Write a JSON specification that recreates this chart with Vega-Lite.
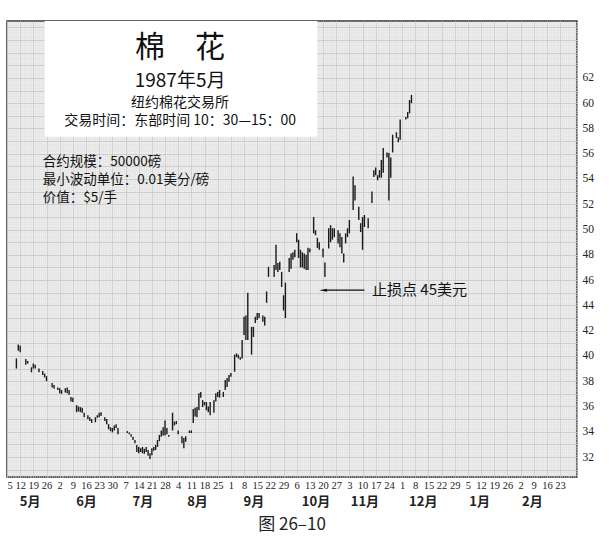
{
  "$schema": "https://vega.github.io/schema/vega-lite/v6.json",
  "description": "棉花 1987年5月 日线图",
  "width": 570,
  "height": 456,
  "autosize": {"type": "none"},
  "padding": {"left": 7, "top": 21, "right": 32, "bottom": 63},
  "background": "white",
  "title": {
    "text": "图 26–10",
    "orient": "bottom",
    "anchor": "middle",
    "offset": 9,
    "font": "Noto Sans CJK SC",
    "fontSize": 17,
    "fontWeight": "normal",
    "color": "#222"
  },
  "config": {
    "view": {"fill": "#eeeeee", "stroke": "#333", "strokeWidth": 1.5},
    "axis": {"title": null, "ticks": false, "domain": false}
  },
  "datasets": {
    "bars": [
      {"d": "1987-05-10", "hi": 39.8, "lo": 39.0},
      {"d": "1987-05-11", "hi": 40.9, "lo": 40.4},
      {"d": "1987-05-12", "hi": 40.8, "lo": 40.3},
      {"d": "1987-05-15", "hi": 39.75, "lo": 39.3},
      {"d": "1987-05-16", "hi": 39.6, "lo": 39.4},
      {"d": "1987-05-18", "hi": 39.1, "lo": 38.7},
      {"d": "1987-05-19", "hi": 39.4, "lo": 39.0},
      {"d": "1987-05-20", "hi": 39.3, "lo": 39.0},
      {"d": "1987-05-22", "hi": 39.0, "lo": 38.7},
      {"d": "1987-05-24", "hi": 38.8, "lo": 38.5},
      {"d": "1987-05-25", "hi": 38.6, "lo": 38.3},
      {"d": "1987-05-26", "hi": 38.4, "lo": 38.0},
      {"d": "1987-05-29", "hi": 37.85, "lo": 37.5},
      {"d": "1987-05-30", "hi": 37.7, "lo": 37.4},
      {"d": "1987-06-01", "hi": 37.5, "lo": 37.3},
      {"d": "1987-06-02", "hi": 37.45, "lo": 37.05},
      {"d": "1987-06-03", "hi": 37.3, "lo": 37.0},
      {"d": "1987-06-05", "hi": 37.45, "lo": 37.1},
      {"d": "1987-06-06", "hi": 37.5, "lo": 37.05},
      {"d": "1987-06-07", "hi": 37.3, "lo": 36.9},
      {"d": "1987-06-08", "hi": 36.75, "lo": 36.4},
      {"d": "1987-06-09", "hi": 36.7, "lo": 36.35},
      {"d": "1987-06-11", "hi": 36.1, "lo": 35.55},
      {"d": "1987-06-12", "hi": 36.0, "lo": 35.6},
      {"d": "1987-06-13", "hi": 35.95, "lo": 35.55},
      {"d": "1987-06-14", "hi": 35.9, "lo": 35.5},
      {"d": "1987-06-15", "hi": 35.5, "lo": 35.15},
      {"d": "1987-06-17", "hi": 35.3, "lo": 35.0},
      {"d": "1987-06-18", "hi": 35.15, "lo": 34.85},
      {"d": "1987-06-19", "hi": 35.0, "lo": 34.7},
      {"d": "1987-06-21", "hi": 35.15, "lo": 34.75},
      {"d": "1987-06-22", "hi": 35.3, "lo": 35.1},
      {"d": "1987-06-23", "hi": 35.5, "lo": 35.15},
      {"d": "1987-06-24", "hi": 35.55, "lo": 35.25},
      {"d": "1987-06-26", "hi": 35.15, "lo": 34.85},
      {"d": "1987-06-27", "hi": 35.0, "lo": 34.6},
      {"d": "1987-06-28", "hi": 34.6, "lo": 34.2},
      {"d": "1987-06-29", "hi": 34.35, "lo": 34.05},
      {"d": "1987-06-30", "hi": 34.3, "lo": 33.95},
      {"d": "1987-07-01", "hi": 34.5, "lo": 34.1},
      {"d": "1987-07-02", "hi": 34.6, "lo": 34.3},
      {"d": "1987-07-03", "hi": 34.3, "lo": 33.8},
      {"d": "1987-07-08", "hi": 34.05, "lo": 33.9},
      {"d": "1987-07-09", "hi": 33.95, "lo": 33.8},
      {"d": "1987-07-10", "hi": 33.8, "lo": 33.6},
      {"d": "1987-07-11", "hi": 33.6, "lo": 33.35},
      {"d": "1987-07-12", "hi": 33.35, "lo": 33.1},
      {"d": "1987-07-13", "hi": 32.95, "lo": 32.4},
      {"d": "1987-07-14", "hi": 32.8, "lo": 32.3},
      {"d": "1987-07-15", "hi": 32.7, "lo": 32.4},
      {"d": "1987-07-16", "hi": 32.8, "lo": 32.3},
      {"d": "1987-07-17", "hi": 32.65, "lo": 32.25},
      {"d": "1987-07-18", "hi": 32.8, "lo": 32.4},
      {"d": "1987-07-19", "hi": 32.55, "lo": 32.1},
      {"d": "1987-07-20", "hi": 32.3, "lo": 31.85},
      {"d": "1987-07-21", "hi": 32.7, "lo": 32.15},
      {"d": "1987-07-22", "hi": 32.8, "lo": 32.5},
      {"d": "1987-07-23", "hi": 32.95, "lo": 32.55},
      {"d": "1987-07-24", "hi": 33.35, "lo": 32.8},
      {"d": "1987-07-25", "hi": 33.75, "lo": 33.25},
      {"d": "1987-07-26", "hi": 34.1, "lo": 33.6},
      {"d": "1987-07-27", "hi": 34.35, "lo": 33.7},
      {"d": "1987-07-28", "hi": 34.9, "lo": 33.7},
      {"d": "1987-07-29", "hi": 34.3, "lo": 33.8},
      {"d": "1987-07-30", "hi": 33.75, "lo": 33.6},
      {"d": "1987-08-01", "hi": 35.5, "lo": 34.1},
      {"d": "1987-08-02", "hi": 34.8, "lo": 34.5},
      {"d": "1987-08-03", "hi": 34.85, "lo": 34.6},
      {"d": "1987-08-04", "hi": 34.1, "lo": 33.8},
      {"d": "1987-08-06", "hi": 33.65, "lo": 33.1},
      {"d": "1987-08-07", "hi": 33.5, "lo": 32.7},
      {"d": "1987-08-08", "hi": 33.65, "lo": 33.2},
      {"d": "1987-08-10", "hi": 34.1, "lo": 33.9},
      {"d": "1987-08-11", "hi": 34.1, "lo": 33.9},
      {"d": "1987-08-12", "hi": 35.8, "lo": 34.7},
      {"d": "1987-08-13", "hi": 35.9, "lo": 35.2},
      {"d": "1987-08-14", "hi": 35.95, "lo": 35.15},
      {"d": "1987-08-15", "hi": 37.05, "lo": 35.7},
      {"d": "1987-08-16", "hi": 37.15, "lo": 36.7},
      {"d": "1987-08-17", "hi": 36.5, "lo": 35.95},
      {"d": "1987-08-18", "hi": 36.35, "lo": 36.1},
      {"d": "1987-08-19", "hi": 36.35, "lo": 35.7},
      {"d": "1987-08-20", "hi": 36.0, "lo": 35.55},
      {"d": "1987-08-21", "hi": 36.35, "lo": 35.3},
      {"d": "1987-08-23", "hi": 36.5, "lo": 35.5},
      {"d": "1987-08-24", "hi": 37.05, "lo": 36.4},
      {"d": "1987-08-25", "hi": 37.15, "lo": 36.75},
      {"d": "1987-08-26", "hi": 37.3, "lo": 36.7},
      {"d": "1987-08-28", "hi": 37.15, "lo": 36.75},
      {"d": "1987-08-29", "hi": 38.1, "lo": 37.3},
      {"d": "1987-08-30", "hi": 38.25, "lo": 37.55},
      {"d": "1987-08-31", "hi": 38.5, "lo": 37.95},
      {"d": "1987-09-01", "hi": 38.65, "lo": 38.35},
      {"d": "1987-09-03", "hi": 40.1, "lo": 38.75},
      {"d": "1987-09-04", "hi": 40.2, "lo": 39.9},
      {"d": "1987-09-05", "hi": 40.1, "lo": 39.8},
      {"d": "1987-09-06", "hi": 39.9, "lo": 39.7},
      {"d": "1987-09-07", "hi": 41.25, "lo": 39.8},
      {"d": "1987-09-08", "hi": 43.1, "lo": 41.65},
      {"d": "1987-09-09", "hi": 43.2, "lo": 41.25},
      {"d": "1987-09-10", "hi": 45.0, "lo": 41.25},
      {"d": "1987-09-12", "hi": 42.3, "lo": 40.1},
      {"d": "1987-09-13", "hi": 42.3, "lo": 41.5},
      {"d": "1987-09-14", "hi": 43.1, "lo": 42.6},
      {"d": "1987-09-15", "hi": 43.4, "lo": 42.85},
      {"d": "1987-09-16", "hi": 43.4, "lo": 43.0},
      {"d": "1987-09-18", "hi": 43.2, "lo": 42.7},
      {"d": "1987-09-19", "hi": 43.1, "lo": 42.4},
      {"d": "1987-09-20", "hi": 45.1, "lo": 44.2},
      {"d": "1987-09-21", "hi": 47.05, "lo": 46.25},
      {"d": "1987-09-24", "hi": 47.2, "lo": 46.25},
      {"d": "1987-09-25", "hi": 48.8, "lo": 46.8},
      {"d": "1987-09-26", "hi": 47.35, "lo": 46.65},
      {"d": "1987-09-27", "hi": 47.45, "lo": 46.8},
      {"d": "1987-09-28", "hi": 46.65, "lo": 45.45},
      {"d": "1987-09-29", "hi": 44.8, "lo": 43.6},
      {"d": "1987-09-30", "hi": 45.8, "lo": 43.0},
      {"d": "1987-10-02", "hi": 47.75, "lo": 46.65},
      {"d": "1987-10-03", "hi": 48.1, "lo": 46.9},
      {"d": "1987-10-04", "hi": 48.2, "lo": 47.6},
      {"d": "1987-10-05", "hi": 48.4, "lo": 47.8},
      {"d": "1987-10-06", "hi": 49.7, "lo": 49.0},
      {"d": "1987-10-07", "hi": 49.2, "lo": 47.75},
      {"d": "1987-10-08", "hi": 48.4, "lo": 47.0},
      {"d": "1987-10-09", "hi": 48.2, "lo": 47.0},
      {"d": "1987-10-10", "hi": 48.1, "lo": 46.9},
      {"d": "1987-10-11", "hi": 48.0, "lo": 46.8},
      {"d": "1987-10-12", "hi": 48.55, "lo": 46.8},
      {"d": "1987-10-13", "hi": 48.5, "lo": 48.2},
      {"d": "1987-10-15", "hi": 51.0, "lo": 49.7},
      {"d": "1987-10-16", "hi": 49.95, "lo": 49.55},
      {"d": "1987-10-17", "hi": 49.35, "lo": 48.55},
      {"d": "1987-10-18", "hi": 49.0, "lo": 48.4},
      {"d": "1987-10-20", "hi": 48.5, "lo": 47.8},
      {"d": "1987-10-21", "hi": 47.4, "lo": 46.25},
      {"d": "1987-10-23", "hi": 50.1, "lo": 48.5},
      {"d": "1987-10-24", "hi": 50.35, "lo": 49.0},
      {"d": "1987-10-25", "hi": 50.1, "lo": 49.2},
      {"d": "1987-10-26", "hi": 50.1, "lo": 49.4},
      {"d": "1987-10-28", "hi": 49.95, "lo": 48.9},
      {"d": "1987-10-29", "hi": 49.7, "lo": 48.6},
      {"d": "1987-10-30", "hi": 49.4, "lo": 48.1},
      {"d": "1987-10-31", "hi": 48.1, "lo": 47.4},
      {"d": "1987-11-01", "hi": 49.7, "lo": 48.9},
      {"d": "1987-11-02", "hi": 50.1, "lo": 49.4},
      {"d": "1987-11-03", "hi": 50.75, "lo": 49.7},
      {"d": "1987-11-05", "hi": 54.2, "lo": 51.55},
      {"d": "1987-11-06", "hi": 53.5, "lo": 52.3},
      {"d": "1987-11-08", "hi": 51.8, "lo": 50.75},
      {"d": "1987-11-09", "hi": 50.5, "lo": 49.8},
      {"d": "1987-11-10", "hi": 51.0, "lo": 48.4},
      {"d": "1987-11-11", "hi": 51.15, "lo": 50.2},
      {"d": "1987-11-13", "hi": 50.9, "lo": 50.1},
      {"d": "1987-11-15", "hi": 53.0, "lo": 52.1},
      {"d": "1987-11-16", "hi": 54.7, "lo": 54.15},
      {"d": "1987-11-17", "hi": 54.9, "lo": 54.3},
      {"d": "1987-11-18", "hi": 54.3, "lo": 53.9},
      {"d": "1987-11-19", "hi": 54.7, "lo": 54.1},
      {"d": "1987-11-20", "hi": 55.5, "lo": 54.1},
      {"d": "1987-11-21", "hi": 56.45, "lo": 54.5},
      {"d": "1987-11-23", "hi": 56.1, "lo": 55.7},
      {"d": "1987-11-24", "hi": 56.05, "lo": 52.3},
      {"d": "1987-11-25", "hi": 55.7, "lo": 54.1},
      {"d": "1987-11-26", "hi": 57.5, "lo": 56.1},
      {"d": "1987-11-28", "hi": 57.7, "lo": 57.25},
      {"d": "1987-11-29", "hi": 57.3, "lo": 56.9},
      {"d": "1987-11-30", "hi": 58.7, "lo": 57.1},
      {"d": "1987-12-03", "hi": 58.9, "lo": 58.7},
      {"d": "1987-12-04", "hi": 59.3, "lo": 58.8},
      {"d": "1987-12-05", "hi": 60.25, "lo": 59.2},
      {"d": "1987-12-06", "hi": 60.65, "lo": 60.0}
    ]
  },
  "layer": [
    {
      "data": {"values": [{"a": "1987-05-25", "b": "1987-10-17", "top": 66.5, "bot": 57.35}]},
      "mark": {"type": "rect", "fill": "white", "stroke": null},
      "encoding": {
        "x": {
          "field": "a", "type": "temporal",
          "scale": {"type": "utc", "domain": [{"year": 1987, "month": 5, "date": 5, "utc": true}, {"year": 1988, "month": 3, "date": 3, "utc": true}]},
          "axis": {"grid": true, "gridColor": "#e0e0e0", "gridWidth": 0.5, "labels": false, "tickCount": {"interval": "day"}}
        },
        "x2": {"field": "b"},
        "y": {
          "field": "top", "type": "quantitative",
          "scale": {"domain": [30.42, 66.5], "nice": false, "zero": false},
          "axis": {"grid": true, "gridColor": "#e0e0e0", "gridWidth": 0.5, "labels": false, "tickCount": 180, "orient": "left"}
        },
        "y2": {"field": "bot"}
      }
    },
    {
      "data": {"name": "bars"},
      "mark": {"type": "rule", "color": "#1a1a1a", "strokeWidth": 1.4},
      "encoding": {
        "x": {
          "field": "d", "type": "temporal",
          "scale": {"type": "utc", "domain": [{"year": 1987, "month": 5, "date": 5, "utc": true}, {"year": 1988, "month": 3, "date": 3, "utc": true}]},
          "axis": {
            "orient": "bottom",
            "grid": true, "gridColor": "#c6c6c6", "gridWidth": 0.8,
            "values": [
              {"year": 1987, "month": 5, "date": 5, "utc": true}, {"year": 1987, "month": 5, "date": 12, "utc": true},
              {"year": 1987, "month": 5, "date": 19, "utc": true}, {"year": 1987, "month": 5, "date": 26, "utc": true},
              {"year": 1987, "month": 6, "date": 2, "utc": true}, {"year": 1987, "month": 6, "date": 9, "utc": true},
              {"year": 1987, "month": 6, "date": 16, "utc": true}, {"year": 1987, "month": 6, "date": 23, "utc": true},
              {"year": 1987, "month": 6, "date": 30, "utc": true}, {"year": 1987, "month": 7, "date": 7, "utc": true},
              {"year": 1987, "month": 7, "date": 14, "utc": true}, {"year": 1987, "month": 7, "date": 21, "utc": true},
              {"year": 1987, "month": 7, "date": 28, "utc": true}, {"year": 1987, "month": 8, "date": 4, "utc": true},
              {"year": 1987, "month": 8, "date": 11, "utc": true}, {"year": 1987, "month": 8, "date": 18, "utc": true},
              {"year": 1987, "month": 8, "date": 25, "utc": true}, {"year": 1987, "month": 9, "date": 1, "utc": true},
              {"year": 1987, "month": 9, "date": 8, "utc": true}, {"year": 1987, "month": 9, "date": 15, "utc": true},
              {"year": 1987, "month": 9, "date": 22, "utc": true}, {"year": 1987, "month": 9, "date": 29, "utc": true},
              {"year": 1987, "month": 10, "date": 6, "utc": true}, {"year": 1987, "month": 10, "date": 13, "utc": true},
              {"year": 1987, "month": 10, "date": 20, "utc": true}, {"year": 1987, "month": 10, "date": 27, "utc": true},
              {"year": 1987, "month": 11, "date": 3, "utc": true}, {"year": 1987, "month": 11, "date": 10, "utc": true},
              {"year": 1987, "month": 11, "date": 17, "utc": true}, {"year": 1987, "month": 11, "date": 24, "utc": true},
              {"year": 1987, "month": 12, "date": 1, "utc": true}, {"year": 1987, "month": 12, "date": 8, "utc": true},
              {"year": 1987, "month": 12, "date": 15, "utc": true}, {"year": 1987, "month": 12, "date": 22, "utc": true},
              {"year": 1987, "month": 12, "date": 29, "utc": true}, {"year": 1988, "month": 1, "date": 5, "utc": true},
              {"year": 1988, "month": 1, "date": 12, "utc": true}, {"year": 1988, "month": 1, "date": 19, "utc": true},
              {"year": 1988, "month": 1, "date": 26, "utc": true}, {"year": 1988, "month": 2, "date": 2, "utc": true},
              {"year": 1988, "month": 2, "date": 9, "utc": true}, {"year": 1988, "month": 2, "date": 16, "utc": true},
              {"year": 1988, "month": 2, "date": 23, "utc": true}
            ],
            "labelExpr": "utcFormat(datum.value, '%-d')",
            "labelOverlap": false,
            "labelFont": "Liberation Serif",
            "labelFontSize": 10.5,
            "labelColor": "#222",
            "labelPadding": 3
          }
        },
        "y": {
          "field": "lo", "type": "quantitative",
          "scale": {"domain": [30.42, 66.5], "nice": false, "zero": false},
          "axis": {
            "orient": "right",
            "grid": true, "gridColor": "#c6c6c6", "gridWidth": 0.8,
            "values": [31, 32, 33, 34, 35, 36, 37, 38, 39, 40, 41, 42, 43, 44, 45, 46, 47, 48, 49, 50, 51, 52, 53, 54, 55, 56, 57, 58, 59, 60, 61, 62, 63, 64, 65, 66],
            "labelExpr": "datum.value % 2 == 0 && datum.value <= 62 ? datum.label : ''",
            "labelFont": "Liberation Serif",
            "labelFontSize": 11.5,
            "labelColor": "#222",
            "labelPadding": 5
          }
        },
        "y2": {"field": "hi"}
      }
    },
    {
      "data": {"values": [{"d": "1987-08-05", "p": 64.38, "t": "棉　花"}]},
      "mark": {"type": "text", "font": "Noto Sans CJK SC", "fontSize": 30, "color": "#111", "align": "center", "baseline": "middle"},
      "encoding": {
        "x": {
          "field": "d", "type": "temporal",
          "scale": {"type": "utc", "domain": [{"year": 1987, "month": 5, "date": 5, "utc": true}, {"year": 1988, "month": 3, "date": 3, "utc": true}]},
          "axis": {
            "orient": "bottom",
            "offset": 17,
            "values": [
              {"year": 1987, "month": 5, "date": 17, "utc": true}, {"year": 1987, "month": 6, "date": 16, "utc": true},
              {"year": 1987, "month": 7, "date": 16, "utc": true}, {"year": 1987, "month": 8, "date": 14, "utc": true},
              {"year": 1987, "month": 9, "date": 13, "utc": true}, {"year": 1987, "month": 10, "date": 16, "utc": true},
              {"year": 1987, "month": 11, "date": 11, "utc": true}, {"year": 1987, "month": 12, "date": 12, "utc": true},
              {"year": 1988, "month": 1, "date": 11, "utc": true}, {"year": 1988, "month": 2, "date": 8, "utc": true}
            ],
            "labelExpr": "utcFormat(datum.value, '%-m') + '月'",
            "labelOverlap": false,
            "labelFont": "Noto Sans CJK SC",
            "labelFontSize": 13,
            "labelFontWeight": "bold",
            "labelColor": "#222",
            "labelPadding": 1,
            "grid": false
          }
        },
        "y": {"field": "p", "type": "quantitative", "scale": {"domain": [30.42, 66.5], "nice": false, "zero": false}, "axis": null},
        "text": {"field": "t"}
      }
    },
    {
      "data": {"values": [{"d": "1987-08-05", "p": 61.75, "t": "1987年5月"}]},
      "mark": {"type": "text", "font": "Noto Sans CJK SC", "fontSize": 19, "color": "#111", "align": "center", "baseline": "middle"},
      "encoding": {
        "x": {"field": "d", "type": "temporal", "scale": {"type": "utc", "domain": [{"year": 1987, "month": 5, "date": 5, "utc": true}, {"year": 1988, "month": 3, "date": 3, "utc": true}]}, "axis": null},
        "y": {"field": "p", "type": "quantitative", "scale": {"domain": [30.42, 66.5], "nice": false, "zero": false}, "axis": null},
        "text": {"field": "t"}
      }
    },
    {
      "data": {"values": [
        {"d": "1987-08-05", "p": 60.05, "t": "纽约棉花交易所"},
        {"d": "1987-08-05", "p": 58.62, "t": "交易时间：东部时间 10：30—15：00"}
      ]},
      "mark": {"type": "text", "font": "Noto Sans CJK SC", "fontSize": 14, "color": "#111", "align": "center", "baseline": "middle"},
      "encoding": {
        "x": {"field": "d", "type": "temporal", "scale": {"type": "utc", "domain": [{"year": 1987, "month": 5, "date": 5, "utc": true}, {"year": 1988, "month": 3, "date": 3, "utc": true}]}, "axis": null},
        "y": {"field": "p", "type": "quantitative", "scale": {"domain": [30.42, 66.5], "nice": false, "zero": false}, "axis": null},
        "text": {"field": "t"}
      }
    },
    {
      "data": {"values": [
        {"d": "1987-05-24", "p": 55.35, "t": "合约规模：50000磅"},
        {"d": "1987-05-24", "p": 53.92, "t": "最小波动单位：0.01美分/磅"},
        {"d": "1987-05-24", "p": 52.5, "t": "价值：$5/手"}
      ]},
      "mark": {"type": "text", "font": "Noto Sans CJK SC", "fontSize": 13.5, "color": "#111", "align": "left", "baseline": "middle"},
      "encoding": {
        "x": {"field": "d", "type": "temporal", "scale": {"type": "utc", "domain": [{"year": 1987, "month": 5, "date": 5, "utc": true}, {"year": 1988, "month": 3, "date": 3, "utc": true}]}, "axis": null},
        "y": {"field": "p", "type": "quantitative", "scale": {"domain": [30.42, 66.5], "nice": false, "zero": false}, "axis": null},
        "text": {"field": "t"}
      }
    },
    {
      "data": {"values": [{"a": "1987-10-21", "b": "1987-11-11", "p": 45.2}]},
      "mark": {"type": "rule", "color": "#111", "strokeWidth": 1.3},
      "encoding": {
        "x": {"field": "a", "type": "temporal", "scale": {"type": "utc", "domain": [{"year": 1987, "month": 5, "date": 5, "utc": true}, {"year": 1988, "month": 3, "date": 3, "utc": true}]}, "axis": null},
        "x2": {"field": "b"},
        "y": {"field": "p", "type": "quantitative", "scale": {"domain": [30.42, 66.5], "nice": false, "zero": false}, "axis": null}
      }
    },
    {
      "data": {"values": [{"d": "1987-10-20", "p": 45.2}]},
      "mark": {"type": "point", "shape": "M -1 0 L 1 -0.4 L 1 0.4 Z", "filled": true, "color": "#111", "opacity": 1, "size": 60},
      "encoding": {
        "x": {"field": "d", "type": "temporal", "scale": {"type": "utc", "domain": [{"year": 1987, "month": 5, "date": 5, "utc": true}, {"year": 1988, "month": 3, "date": 3, "utc": true}]}, "axis": null},
        "y": {"field": "p", "type": "quantitative", "scale": {"domain": [30.42, 66.5], "nice": false, "zero": false}, "axis": null}
      }
    },
    {
      "data": {"values": [{"d": "1987-11-15", "p": 45.2, "t": "止损点 45美元"}]},
      "mark": {"type": "text", "font": "Noto Sans CJK SC", "fontSize": 15, "color": "#111", "align": "left", "baseline": "middle"},
      "encoding": {
        "x": {"field": "d", "type": "temporal", "scale": {"type": "utc", "domain": [{"year": 1987, "month": 5, "date": 5, "utc": true}, {"year": 1988, "month": 3, "date": 3, "utc": true}]}, "axis": null},
        "y": {"field": "p", "type": "quantitative", "scale": {"domain": [30.42, 66.5], "nice": false, "zero": false}, "axis": null},
        "text": {"field": "t"}
      }
    }
  ],
  "resolve": {"axis": {"x": "independent", "y": "independent"}}
}
